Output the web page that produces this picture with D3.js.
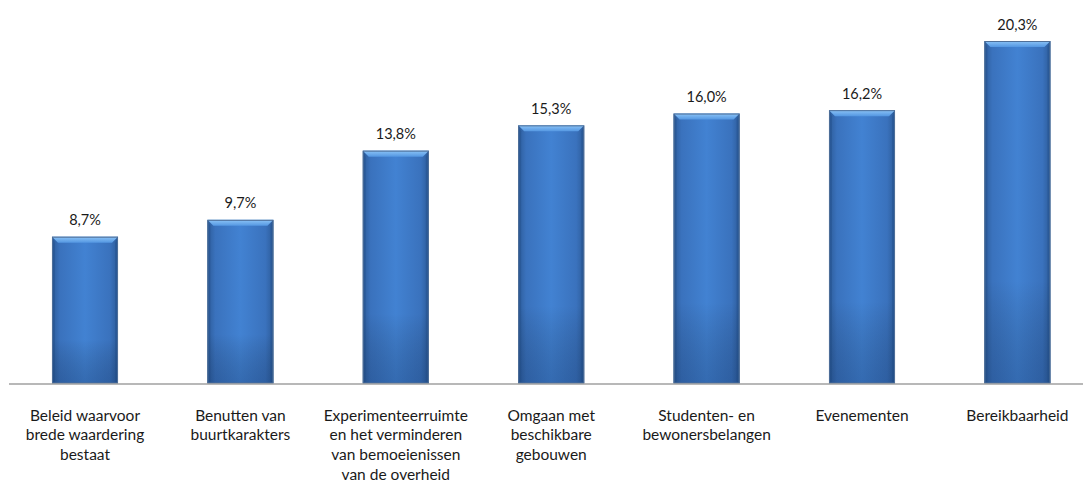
<!DOCTYPE html>
<html><head><meta charset="utf-8">
<script src="https://cdn.jsdelivr.net/npm/d3@7"></script>
<style>
html,body{margin:0;padding:0;background:#fff;}
svg{display:block;font-family:Lato, "Open Sans", sans-serif;}
</style></head>
<body>
<svg id="chart" width="1083" height="483"></svg>
<script>
const categories = [
  ["Beleid waarvoor","brede waardering","bestaat"],
  ["Benutten van","buurtkarakters"],
  ["Experimenteerruimte","en het verminderen","van bemoeienissen","van de overheid"],
  ["Omgaan met","beschikbare","gebouwen"],
  ["Studenten- en","bewonersbelangen"],
  ["Evenementen"],
  ["Bereikbaarheid"]
];
const values = [8.7, 9.7, 13.8, 15.3, 16.0, 16.2, 20.3];
const valueLabels = ["8,7%","9,7%","13,8%","15,3%","16,0%","16,2%","20,3%"];

const svg = d3.select("#chart");
const baseY = 383.5;

const x = d3.scaleBand().domain(d3.range(values.length)).range([7.3, 1095.1]).paddingInner(0.575).paddingOuter(0.2875);
const y = d3.scaleLinear().domain([0, 20.3]).range([baseY, 41]);

const defs = svg.append("defs");
const g1 = defs.append("linearGradient").attr("id","barGrad").attr("x1","0").attr("x2","1").attr("y1","0").attr("y2","0");
[[0,"#2d5c9a"],[0.12,"#3a72bd"],[0.5,"#4282d2"],[0.88,"#3a72bd"],[1,"#2d5c9a"]].forEach(([o,c])=>g1.append("stop").attr("offset",o).attr("stop-color",c));
const g2 = defs.append("linearGradient").attr("id","vGrad").attr("x1","0").attr("x2","0").attr("y1","0").attr("y2","1");
[[0,"#000",0],[0.7,"#000",0],[1,"#0a2550",0.25]].forEach(([o,c,a])=>g2.append("stop").attr("offset",o).attr("stop-color",c).attr("stop-opacity",a));
const g3 = defs.append("linearGradient").attr("id","topGrad").attr("x1","0").attr("x2","0").attr("y1","0").attr("y2","1");
[[0,"#8cc4f7"],[1,"#5497e2"]].forEach(([o,c])=>g3.append("stop").attr("offset",o).attr("stop-color",c));

const bars = svg.append("g").selectAll("g").data(values).join("g");
bars.each(function(v,i){
  const g = d3.select(this);
  const x0 = x(i), w = x.bandwidth(), y0 = y(v), h = baseY - y0;
  g.append("rect").attr("x",x0).attr("y",y0).attr("width",w).attr("height",h).attr("fill","url(#barGrad)");
  g.append("rect").attr("x",x0).attr("y",y0).attr("width",w).attr("height",h).attr("fill","url(#vGrad)");
  const b = 6;
  g.append("path").attr("d",`M${x0},${y0}L${x0+w},${y0}L${x0+w-b},${y0+b}L${x0+b},${y0+b}Z`).attr("fill","url(#topGrad)");
  g.append("path").attr("d",`M${x0},${y0}L${x0+3},${y0+b}L${x0+3},${baseY-2}L${x0},${baseY}Z`).attr("fill","#1f4a85").attr("opacity",0.35);
  g.append("path").attr("d",`M${x0+w},${y0}L${x0+w-3},${y0+b}L${x0+w-3},${baseY-2}L${x0+w},${baseY}Z`).attr("fill","#1f4a85").attr("opacity",0.35);
  g.append("rect").attr("x",x0+0.5).attr("y",y0+0.5).attr("width",w-1).attr("height",h-1).attr("fill","none").attr("stroke","#4f6f98").attr("stroke-width",1);
});

svg.append("g").selectAll("text").data(values).join("text")
  .attr("x",(d,i)=>x(i)+x.bandwidth()/2).attr("y",d=>y(d)-11.5)
  .attr("text-anchor","middle").attr("font-size",14.5).attr("fill","#1a1a1a")
  .text((d,i)=>valueLabels[i]);

svg.append("line").attr("x1",9).attr("x2",1083).attr("y1",baseY+0.5).attr("y2",baseY+0.5).attr("stroke","#a0a0a0").attr("stroke-width",1.5);

const labels = svg.append("g").selectAll("text").data(categories).join("text")
  .attr("x",(d,i)=>x(i)+x.bandwidth()/2).attr("y",420.5)
  .attr("text-anchor","middle").attr("font-size",15.5).attr("fill","#1a1a1a");
labels.each(function(lines,i){
  const t = d3.select(this);
  lines.forEach((l,j)=>t.append("tspan").attr("x",x(i)+x.bandwidth()/2).attr("dy",j===0?0:19.8).text(l));
});
</script>
</body></html>
